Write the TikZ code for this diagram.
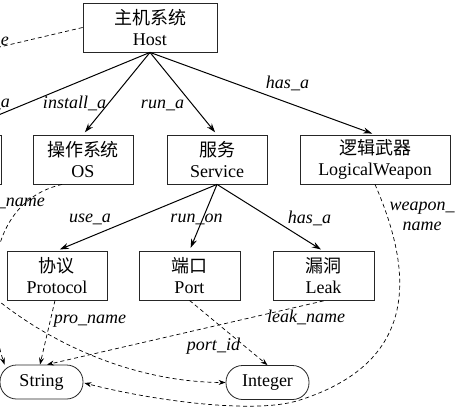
\documentclass[tikz,border=0pt]{standalone}
\usepackage{fontspec}
\setmainfont{Liberation Serif}
\newfontfamily\cjk{Noto Sans CJK SC}
\usetikzlibrary{arrows.meta}
\begin{document}
\begin{tikzpicture}[x=1pt,y=-1pt,
  box/.style={draw=black!85, line width=0.8pt, minimum width=#1, minimum height=49pt,
    align=center, inner sep=0pt, font=\fontsize{18}{21}\selectfont},
  term/.style={draw=black!85, line width=0.8pt, rounded corners=16.5pt, minimum width=83pt,
    minimum height=34pt, inner sep=0pt, font=\fontsize{18}{21}\selectfont},
  lab/.style={font=\fontsize{18}{20}\selectfont\itshape, inner sep=0pt, anchor=base},
  rel/.style={line width=1pt, -{Stealth[length=9pt,width=6pt]}, shorten >=3pt},
  attr/.style={line width=0.7pt, dash pattern=on 4pt off 3pt, -{Stealth[length=7pt,width=5pt]}},
  attrn/.style={line width=0.7pt, dash pattern=on 4pt off 3pt}]
\useasboundingbox (0,0) rectangle (464,407);
\clip (0,0) rectangle (464,407);
% boxes
\node[box=134pt] (host) at (150,27.5) {{\cjk 主机系统}\\Host};
\node[box=100pt] (hw) at (-49,159.5) {};
\node[box=100pt] (os) at (83,159.5) {{\cjk 操作系统}\\OS};
\node[box=100pt] (service) at (217,159.5) {{\cjk 服务}\\Service};
\node[box=150pt] (weapon) at (375,159.5) {{\cjk 逻辑武器}\\LogicalWeapon};
\node[box=100pt] (protocol) at (57,275.5) {{\cjk 协议}\\Protocol};
\node[box=101pt] (port) at (189.5,275.5) {{\cjk 端口}\\Port};
\node[box=101pt] (leak) at (323.5,276) {{\cjk 漏洞}\\Leak};
\node[term] (string) at (41.5,382) {String};
\node[term] (integer) at (267.5,382.5) {Integer};
\coordinate (hostattr) at (-60,61);
\coordinate (hwattr) at (-20,285);
% solid relations
\draw[rel] (host.south) -- (hw.north);
\draw[rel] (host.south) -- (os.north);
\draw[rel] (host.south) -- (service.north);
\draw[rel] (host.south) -- (weapon.north);
\draw[rel] (service.south) -- (protocol.north);
\draw[rel] (service.south) -- (port.north);
\draw[rel] (service.south) -- (leak.north);
\node[lab, anchor=base east] (l0) at (10,107) {has\_a};
\node[lab] (l1) at (74.5,108) {install\_a};
\node[lab] (l2) at (162.5,108) {run\_a};
\node[lab] (l3) at (287.5,88) {has\_a};
\node[lab] (l4) at (90,222) {use\_a};
\node[lab] (l5) at (196.5,222) {run\_on};
\node[lab] (l6) at (309.5,223) {has\_a};
% dashed attributes
\draw[attrn] (host.west) -- (hostattr);
\node[lab, anchor=base east] (l7) at (9,45) {host\_name};
\draw[attr] ([xshift=-21pt]os.south) .. controls (-25,205) and (-10,320) .. ([xshift=-37pt]string.north);
\node[lab, anchor=base east] (l8) at (45,206) {os\_name};
\draw[attr] (hwattr) .. controls (40,340) and (130,382) .. (integer.west);
\draw[attr] (weapon.south) .. controls (410,265) and (425,360) .. (300,400)
  .. controls (255,415) and (150,400) .. ([xshift=1pt,yshift=-1pt]string.east);
\node[lab, align=center] (l9) at (422,230) {weapon\_\\name};
\draw[attr] ([xshift=-2pt]protocol.south) -- ([xshift=-1.5pt]string.north);
\node[lab] (l10) at (90,323) {pro\_name};
\draw[attr] (leak.south) -- ([xshift=5.5pt]string.north);
\node[lab] (l11) at (306,322) {leak\_name};
\draw[attr] (port.south) -- (integer.north);
\node[lab] (l12) at (213.5,350) {port\_id};
\end{tikzpicture}
\end{document}
